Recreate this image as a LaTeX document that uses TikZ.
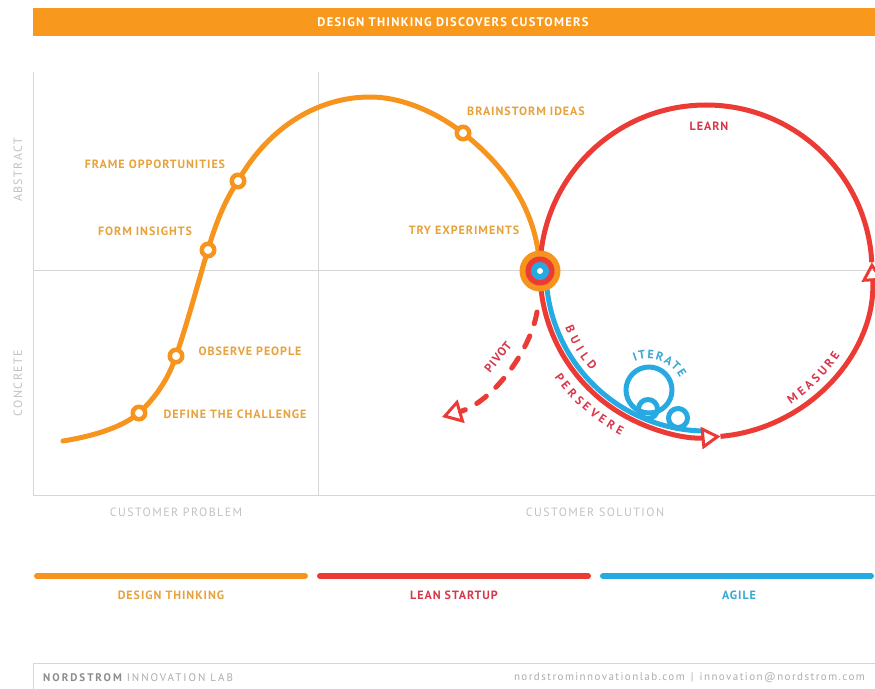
\documentclass[tikz,border=0pt]{standalone}
\usepackage{fontspec}
\setmainfont{PT Sans}
\newfontfamily\labfont[LetterSpace=8]{PT Sans}
\newfontfamily\titlefont[LetterSpace=10]{PT Sans}
\newfontfamily\axfont[LetterSpace=12]{PT Sans}
\newfontfamily\footfont[LetterSpace=13]{PT Sans}
\newfontfamily\footleftfont[LetterSpace=18]{PT Sans}
\usetikzlibrary{arrows.meta,decorations.text}
\definecolor{dtor}{HTML}{F7941E}
\definecolor{hdr}{HTML}{F8991D}
\definecolor{otxt}{HTML}{E8A23C}
\definecolor{lsred}{HTML}{EC3A35}
\definecolor{rtxt}{HTML}{D8364A}
\definecolor{agblue}{HTML}{27A9E1}
\definecolor{btxt}{HTML}{38A7D2}
\definecolor{gridc}{HTML}{D6D6D6}
\definecolor{gtxt}{HTML}{C2C2C2}
\definecolor{ftxt}{HTML}{ADADAD}
\begin{document}
\begin{tikzpicture}[x=1pt,y=-1pt]
\tikzset{
  gridline/.style={draw=gridc, line width=1pt},
  orangeline/.style={draw=dtor, line width=5pt, line cap=round},
  redline/.style={draw=lsred, line width=5pt},
  blueline/.style={draw=agblue, line width=5pt, line cap=round},
  dot/.style={circle, draw=dtor, fill=white, line width=4.5pt, minimum size=12.5pt, inner sep=0pt},
  olabel/.style={text=otxt, font=\labfont\bfseries\fontsize{12}{13}\selectfont, inner sep=0pt},
  rlabel/.style={text=rtxt, font=\labfont\bfseries\fontsize{12}{13}\selectfont, inner sep=0pt},
  glabel/.style={text=gtxt, font=\axfont\fontsize{12}{13}\selectfont, inner sep=0pt},
  leglabel/.style={font=\labfont\bfseries\fontsize{12}{13}\selectfont, inner sep=0pt},
  legbar/.style={line width=6pt, line cap=round},
  opentip/.style={-{Triangle[open, length=19pt, width=22pt, line width=3pt]}},
  bigtip/.style={-{Triangle[open, length=20pt, width=24pt, line width=3pt]}},
}
\useasboundingbox (0,0) rectangle (875,688);
\fill[white] (0,0) rectangle (875,688);

% header
\fill[hdr] (33,8) rectangle (880,36);
\node[text=white, font=\titlefont\bfseries\fontsize{12.5}{13}\selectfont, inner sep=0pt] (title) at (453,22) {DESIGN THINKING DISCOVERS CUSTOMERS};

% grid
\draw[gridline] (33,72) -- (33,495) -- (880,495);
\draw[gridline] (318,72) -- (318,495);
\draw[gridline] (33,270) -- (880,270);

% axis labels
\node[glabel, rotate=90] (abstract) at (18,170) {ABSTRACT};
\node[glabel, rotate=90] (concrete) at (18,383) {CONCRETE};
\node[glabel] (custprob) at (176,512) {CUSTOMER PROBLEM};
\node[glabel] (custsol) at (595,512) {CUSTOMER SOLUTION};

% key points
\coordinate (start) at (63,441);
\coordinate (pdefine) at (139,413);
\coordinate (pobserve) at (176,356);
\coordinate (pform) at (208,250);
\coordinate (pframe) at (238,181);
\coordinate (ptop) at (370,97);
\coordinate (pbrain) at (463,133);
\coordinate (junc) at (540,271);
\coordinate (cc) at (706,271);

% orange design-thinking curve
\draw[orangeline] (start) .. controls (100,435) and (125,425) .. (pdefine)
  .. controls (155,398) and (168,380) .. (pobserve)
  .. controls (190,315) and (200,275) .. (pform)
  .. controls (215,225) and (225,200) .. (pframe)
  .. controls (270,125) and (320,97) .. (ptop)
  .. controls (405,97) and (440,115) .. (pbrain)
  .. controls (510,170) and (538,215) .. (junc);

% blue agile line and loops
\draw[blueline] ([shift={(185:160pt)}]cc) arc[start angle=185, end angle=268, radius=160pt];
\draw[blueline] (649,390) ellipse [x radius=23pt, y radius=23pt];
\draw[blueline] (648,409) circle [radius=9.5pt];
\draw[blueline] (678,418) circle [radius=9.5pt];

% red lean startup loop
\draw[redline, opentip] ([shift={(180:166pt)}]cc) arc[start angle=180, end angle=275, radius=166pt];
\draw[redline, opentip] ([shift={(275:166pt)}]cc) arc[start angle=275, end angle=363, radius=166pt];
\draw[redline] ([shift={(3:166pt)}]cc) arc[start angle=3, end angle=180, radius=166pt];

% pivot
\coordinate (ps) at (537,312);
\coordinate (pe) at (442,417);
\draw[draw=lsred, line width=5pt, line cap=round, dash pattern=on 12pt off 13pt, bigtip] (ps) .. controls (530,352) and (492,402) .. (pe);

% junction
\node[circle, fill=dtor, minimum size=41pt, inner sep=0pt] (jo) at (junc) {};
\node[circle, fill=lsred, minimum size=29pt, inner sep=0pt] (jr) at (junc) {};
\node[circle, fill=agblue, minimum size=18pt, inner sep=0pt] (jb) at (junc) {};
\node[circle, fill=white, minimum size=6pt, inner sep=0pt] (jw) at (junc) {};

% dots on orange curve
\node[dot] (ndefine) at (pdefine) {};
\node[dot] (nobserve) at (pobserve) {};
\node[dot] (nform) at (pform) {};
\node[dot] (nframe) at (pframe) {};
\node[dot] (nbrain) at (pbrain) {};

% orange labels
\node[olabel] (lbrain) at (526,111) {BRAINSTORM IDEAS};
\node[olabel] (lframe) at (155,164) {FRAME OPPORTUNITIES};
\node[olabel] (lform) at (145,231) {FORM INSIGHTS};
\node[olabel] (ltry) at (464,230) {TRY EXPERIMENTS};
\node[olabel] (lobserve) at (250,351) {OBSERVE PEOPLE};
\node[olabel] (ldefine) at (235,414) {DEFINE THE CHALLENGE};

% red labels
\node[rlabel] (llearn) at (709,126) {LEARN};
\node[rlabel, rotate=51] (lpivot) at (498,357) {PIVOT};
\path[decorate, decoration={text along path, text align=fit to path,
  text={|\color{rtxt}\labfont\bfseries\fontsize{12}{13}\selectfont|BUILD}}]
  ([shift={(202:152pt)}]cc) arc[start angle=202, end angle=221, radius=152pt];
\path[decorate, decoration={text along path, text align=fit to path,
  text={|\color{rtxt}\labfont\bfseries\fontsize{12}{13}\selectfont|PERSEVERE}}]
  ([shift={(215:185pt)}]cc) arc[start angle=215, end angle=242.5, radius=185pt];
\path[decorate, decoration={text along path, text align=fit to path,
  text={|\color{rtxt}\labfont\bfseries\fontsize{12}{13}\selectfont|MEASURE}}]
  ([shift={(302.5:158pt)}]cc) arc[start angle=302.5, end angle=328, radius=158pt];
\path[decorate, decoration={text along path, text align=fit to path,
  text={|\color{btxt}\labfont\bfseries\fontsize{12}{13}\selectfont|ITERATE}}]
  ([shift={(112:36pt)}]648,395) arc[start angle=112, end angle=28, radius=36pt];

% legend
\draw[legbar, dtor] (37,576) -- (305,576);
\draw[legbar, lsred] (320,576) -- (588,576);
\draw[legbar, agblue] (603,576) -- (871,576);
\node[leglabel, text=otxt] (ldt) at (171,595) {DESIGN THINKING};
\node[leglabel, text=rtxt] (lls) at (454,595) {LEAN STARTUP};
\node[leglabel, text=btxt] (lag) at (739,595) {AGILE};

% footer
\draw[gridline] (33,692) -- (33,663) -- (880,663);
\node[anchor=west, text=ftxt, font=\footleftfont\fontsize{11}{12}\selectfont, inner sep=0pt] (fleft) at (43,678) {\textcolor{black!45}{\bfseries NORDSTROM} INNOVATION LAB};
\node[anchor=east, text=ftxt, font=\footfont\fontsize{11}{12}\selectfont, inner sep=0pt] (fright) at (865,678) {nordstrominnovationlab.com \,|\, innovation@nordstrom.com};
\end{tikzpicture}
\end{document}
